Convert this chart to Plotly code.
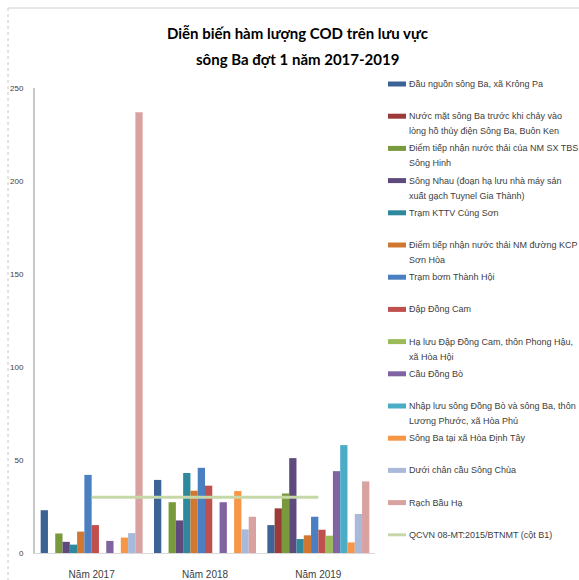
import plotly.graph_objects as go

# COD concentrations (mg/l) at monitoring points on the Ba river, round 1 of each year
years = ["Năm 2017", "Năm 2018", "Năm 2019"]

stations = [
    "Đầu nguồn sông Ba, xã Krông Pa",
    "Nước mặt sông Ba trước khi chảy vào<br>lòng hồ thủy điện Sông Ba, Buôn Ken",
    "Điểm tiếp nhận nước thải của NM SX TBS<br>Sông Hinh",
    "Sông Nhau (đoạn hạ lưu nhà máy sản<br>xuất gạch Tuynel Gia Thành)",
    "Trạm KTTV Củng Sơn",
    "Điểm tiếp nhận nước thải NM đường KCP<br>Sơn Hòa",
    "Trạm bơm Thành Hội",
    "Đập Đồng Cam",
    "Hạ lưu Đập Đồng Cam, thôn Phong Hậu,<br>xã Hòa Hội",
    "Cầu Đồng Bò",
    "Nhập lưu sông Đồng Bò và sông Ba, thôn<br>Lương Phước, xã Hòa Phú",
    "Sông Ba tại xã Hòa Định Tây",
    "Dưới chân cầu Sông Chùa",
    "Rạch Bầu Hạ",
]

cod_2017 = [23, None, 10.5, 6, 4.5, 11.5, 42, 15, None, 6.5, None, 8.3, 10.7, 237]
cod_2018 = [39.3, None, 27.3, 17.5, 43, 33.5, 45.8, 36.2, None, 27.3, None, 33.3, 12.7, 19.5]
cod_2019 = [15, 24, 32, 51, 7.5, 9.5, 19.5, 12.5, 9.3, 44, 58, 5.7, 21, 38.5]

standard_name = "QCVN 08-MT:2015/BTNMT (cột B1)"
standard_values = [30, 30, 30]

y_ticks = [0, 50, 100, 150, 200, 250]

colors = [
    "#3b6396", "#9b3a38", "#789a3d", "#5f4a7d", "#2f899e", "#d07832", "#4a7fc1",
    "#c0504d", "#9bbb59", "#8064a2", "#4bacc6", "#f79646", "#a8b9da", "#d9a2a1",
]
standard_color = "#c6d7a8"

fig = go.Figure()

for i, name in enumerate(stations):
    fig.add_trace(go.Bar(
        x=years,
        y=[cod_2017[i], cod_2018[i], cod_2019[i]],
        name=name.replace("<br>", " "),
        marker=dict(color=colors[i], line=dict(width=0)),
        showlegend=False,
    ))

fig.add_trace(go.Scatter(
    x=years, y=standard_values, mode="lines", name=standard_name,
    line=dict(color=standard_color, width=3), showlegend=False,
))

W, H = 579, 580
font = "Liberation Sans, Arial, sans-serif"

# Legend drawn at the right: a short colour bar followed by the wrapped label
legend_names = stations + [standard_name]
legend_colors = colors + [standard_color]
shapes = []
annotations = []
for i, (name, col) in enumerate(zip(legend_names, legend_colors)):
    yc = 84 + i * 32.2
    is_line = i == len(stations)
    h = 1.5 if is_line else 2.5
    shapes.append(dict(
        type="rect", xref="paper", yref="paper",
        x0=(388 - 35) / 340, x1=(406 - 35) / 340,
        y0=(553 - (yc + h)) / 465, y1=(553 - (yc - h)) / 465,
        fillcolor=col, line=dict(width=0), layer="above",
    ))
    for j, part in enumerate(name.split("<br>")):
        annotations.append(dict(
            text=part, xref="paper", yref="paper",
            x=(407 - 35) / 340, y=(553 - (yc + j * 15)) / 465,
            xanchor="left", yanchor="middle", showarrow=False,
            font=dict(family=font, size=9, color="#404040"),
        ))

# Two-line title
for line, yc in [("Diễn biến hàm lượng COD trên lưu vực", 33),
                 ("sông Ba đợt 1 năm 2017-2019", 59)]:
    annotations.append(dict(
        text="<b>" + line + "</b>", xref="paper", yref="paper",
        x=(297 - 35) / 340, y=(553 - yc) / 465,
        xanchor="center", yanchor="middle", showarrow=False,
        font=dict(family="Liberation Sans Narrow, Lato, sans-serif", size=15, color="#000000"),
    ))

# Thin frame around the chart area
shapes.append(dict(type="line", xref="paper", yref="paper",
                   x0=(8 - 35) / 340, x1=(579 - 35) / 340,
                   y0=(553 - 8) / 465, y1=(553 - 8) / 465,
                   line=dict(color="#d0d0d0", width=1)))
shapes.append(dict(type="line", xref="paper", yref="paper",
                   x0=(8 - 35) / 340, x1=(8 - 35) / 340,
                   y0=(553 - 8) / 465, y1=(553 - 580) / 465,
                   line=dict(color="#c8c8c8", width=1, dash="dot")))

fig.update_layout(
    width=W, height=H,
    margin=dict(l=35, r=204, t=88, b=27),
    paper_bgcolor="white", plot_bgcolor="white",
    barmode="group", bargap=0.1, bargroupgap=0,
    showlegend=False,
    shapes=shapes, annotations=annotations,
    font=dict(family=font, color="#404040"),
)
fig.update_xaxes(
    showgrid=False, showline=True, linecolor="#d9d9d9", linewidth=1,
    ticks="", ticklabelstandoff=12, automargin=False,
    tickfont=dict(size=10, color="#404040"),
)
fig.update_yaxes(
    range=[0, 250], tickvals=y_ticks, showgrid=False, zeroline=False,
    showline=True, linecolor="#c8c8c8", linewidth=2, automargin=False,
    ticks="", ticklabelstandoff=8, tickfont=dict(size=8, color="#404040"),
)

fig.write_html("out.html")
